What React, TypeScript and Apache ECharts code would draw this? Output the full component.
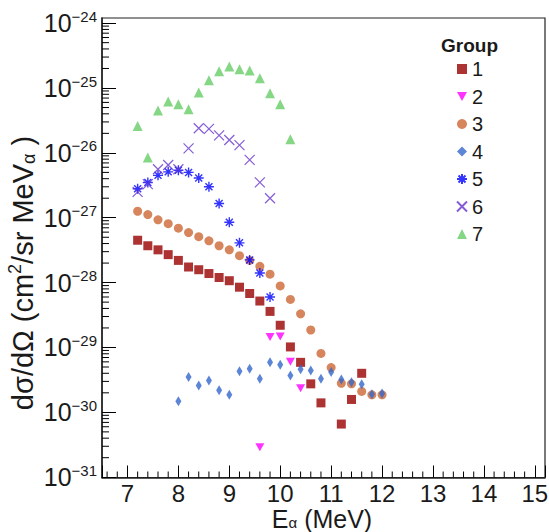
import React, { useEffect, useRef } from "react";
import * as echarts from "echarts";

// ---------- data ----------
const groupNames = ["1", "2", "3", "4", "5", "6", "7"];

const energy1 = [7.2, 7.4, 7.6, 7.8, 8.0, 8.2, 8.4, 8.6, 8.8, 9.0, 9.2, 9.4, 9.6, 9.8, 10.0, 10.2, 10.4, 10.6, 10.8, 11.2, 11.4, 11.6];
const sigma1 = [4.5e-28, 3.7e-28, 3.2e-28, 2.7e-28, 2.2e-28, 1.74e-28, 1.58e-28, 1.38e-28, 1.2e-28, 1.07e-28, 8.5e-29, 6.8e-29, 5.2e-29, 3.6e-29, 2.2e-29, 1.02e-29, 5.9e-30, 2.75e-30, 1.4e-30, 6.6e-31, 1.58e-30, 4.0e-30];

const energy2 = [9.6, 9.8, 10.0, 10.2, 10.4];
const sigma2 = [2.9e-31, 1.45e-29, 1.48e-29, 6.0e-30, 2.35e-30];

const energy3 = [7.2, 7.4, 7.6, 7.8, 8.0, 8.2, 8.4, 8.6, 8.8, 9.0, 9.2, 9.4, 9.6, 9.8, 10.0, 10.2, 10.4, 10.6, 10.8, 11.0, 11.2, 11.4, 11.6, 11.8, 12.0];
const sigma3 = [1.26e-27, 1.12e-27, 9.3e-28, 8.1e-28, 6.9e-28, 5.9e-28, 5.1e-28, 4.4e-28, 3.7e-28, 3.2e-28, 2.6e-28, 2.2e-28, 1.78e-28, 1.35e-28, 8.9e-29, 5.5e-29, 3.3e-29, 1.86e-29, 8.1e-30, 4.9e-30, 2.8e-30, 2.75e-30, 2.1e-30, 1.86e-30, 1.86e-30];

const energy4 = [8.0, 8.2, 8.4, 8.6, 8.8, 9.0, 9.2, 9.4, 9.6, 9.8, 10.0, 10.2, 10.4, 10.6, 10.8, 11.0, 11.2, 11.4, 11.6, 11.8, 12.0];
const sigma4 = [1.48e-30, 3.5e-30, 2.6e-30, 3.1e-30, 2.2e-30, 1.86e-30, 4.3e-30, 4.7e-30, 3.3e-30, 5.9e-30, 5.4e-30, 3.7e-30, 4.6e-30, 4.4e-30, 3.3e-30, 4.2e-30, 3.2e-30, 2.9e-30, 2.7e-30, 1.9e-30, 1.95e-30];

const energy5 = [7.2, 7.4, 7.6, 7.8, 8.0, 8.2, 8.4, 8.6, 8.8, 9.0, 9.2, 9.4, 9.6, 9.8];
const sigma5 = [2.8e-27, 3.5e-27, 4.5e-27, 5.1e-27, 5.4e-27, 5.0e-27, 4.1e-27, 3.0e-27, 1.66e-27, 8.5e-28, 4.1e-28, 2.24e-28, 1.41e-28, 6.0e-29];

const energy6 = [7.2, 7.4, 7.6, 7.8, 8.0, 8.2, 8.4, 8.6, 8.8, 9.0, 9.2, 9.4, 9.6, 9.8];
const sigma6 = [2.5e-27, 3.3e-27, 5.6e-27, 6.5e-27, 5.6e-27, 1.17e-26, 2.4e-26, 2.35e-26, 1.86e-26, 1.58e-26, 1.32e-26, 7.8e-27, 3.5e-27, 2.0e-27];

const energy7 = [7.2, 7.4, 7.6, 7.8, 8.0, 8.2, 8.4, 8.6, 8.8, 9.0, 9.2, 9.4, 9.6, 9.8, 10.0, 10.2];
const sigma7 = [2.6e-26, 8.5e-27, 4.5e-26, 6.2e-26, 5.6e-26, 4.7e-26, 8.5e-26, 1.32e-25, 1.82e-25, 2.14e-25, 1.95e-25, 1.86e-25, 1.41e-25, 8.3e-26, 5.6e-26, 1.62e-26];

const xMin = 6.5;
const xMax = 15.2;
const yMin = 9.9e-32;
const yMax = 1.2e-24;
const yDecades = [-31, -30, -29, -28, -27, -26, -25];
const yMinorMultipliers = [2, 3, 4, 5, 6, 7, 8, 9];
const xMinorTicks = [6.6, 6.8, 7.2, 7.4, 7.6, 7.8, 8.2, 8.4, 8.6, 8.8, 9.2, 9.4, 9.6, 9.8, 10.2, 10.4, 10.6, 10.8, 11.2, 11.4, 11.6, 11.8, 12.2, 12.4, 12.6, 12.8, 13.2, 13.4, 13.6, 13.8, 14.2, 14.4, 14.6, 14.8];

const FONT = "'Liberation Sans', Arial, Helvetica, sans-serif";
const TEXT = "#1a1a1a";

const starPath = "path://M5,0L5,10M0,5L10,5M1.5,1.5L8.5,8.5M8.5,1.5L1.5,8.5";
const crossPath = "path://M0,0L10,10M10,0L0,10";
const downTrianglePath = "path://M0,0L10,0L5,9Z";

function pairs(xs: number[], ys: number[]) {
  return xs.map((x, i) => [x, ys[i]]);
}

export default function App() {
  const ref = useRef<HTMLDivElement>(null);

  useEffect(() => {
    if (!ref.current) return;
    const chart = echarts.init(ref.current, undefined, { renderer: "svg" });

    const yMinorData: number[][] = [];
    yDecades.forEach((d) => {
      yMinorMultipliers.forEach((m) => {
        yMinorData.push([xMin, m * Math.pow(10, d)]);
      });
    });
    const xMinorData = xMinorTicks.map((x) => [x, yMin]);

    const scatterBase = { type: "scatter", z: 3 } as any;

    const option: any = {
      animation: false,
      backgroundColor: "#ffffff",
      textStyle: { fontFamily: FONT },
      title: {
        text: "Group",
        left: 441,
        top: 36,
        padding: 0,
        textStyle: { fontFamily: FONT, fontWeight: "bold", fontSize: 19, color: TEXT },
      },
      legend: {
        data: groupNames,
        orient: "vertical",
        left: 456,
        top: 59,
        padding: 0,
        itemWidth: 10,
        itemHeight: 10,
        itemGap: 7.5,
        textStyle: { fontFamily: FONT, fontSize: 20, color: TEXT, lineHeight: 20 },
        selectedMode: false,
      },
      grid: {
        left: 102,
        right: 4,
        top: 18,
        bottom: 54.5,
        show: true,
        borderColor: "#222",
        borderWidth: 1.2,
        containLabel: false,
        outerBoundsMode: "none",
      },
      xAxis: {
        type: "value",
        min: xMin,
        max: xMax,
        splitNumber: 9,
        axisLine: { show: true, lineStyle: { color: "#222", width: 1.5 } },
        axisTick: { show: true, inside: true, length: 12, lineStyle: { color: "#000", width: 1 } },
        splitLine: { show: false },
        axisLabel: {
          margin: 6,
          fontFamily: FONT,
          fontSize: 24,
          lineHeight: 20,
          color: TEXT,
          formatter: (v: number) => (Math.abs(v - Math.round(v)) < 1e-6 ? String(Math.round(v)) : ""),
        },
      },
      yAxis: {
        type: "log",
        logBase: 10,
        min: yMin,
        max: yMax,
        axisLine: { show: true, lineStyle: { color: "#222", width: 1.5 } },
        axisTick: { show: true, inside: true, length: 14, lineStyle: { color: "#000", width: 1 } },
        splitLine: { show: false },
        minorTick: { show: false },
        axisLabel: {
          margin: 5,
          fontFamily: FONT,
          color: TEXT,
          formatter: (v: number) => {
            if (!(v > 0)) return "";
            const e = Math.log10(v);
            const r = Math.round(e);
            if (Math.abs(e - r) > 0.01) return "";
            return "{b|10}{s|\u2212" + String(-r) + "}";
          },
          rich: {
            b: { fontFamily: FONT, fontSize: 25, color: TEXT },
            s: { fontFamily: FONT, fontSize: 15, color: TEXT, padding: [0, 0, 14, 0] },
          },
        },
      },
      graphic: [
        {
          type: "text",
          x: 23,
          y: 273,
          rotation: Math.PI / 2,
          style: {
            text: "{a|d\u03c3/d\u03a9 (cm}{p|2}{a|/sr MeV}{q|\u03b1}{a| )}",
            align: "center",
            verticalAlign: "middle",
            rich: {
              a: { fontFamily: FONT, fontSize: 29, fill: TEXT },
              p: { fontFamily: FONT, fontSize: 18, fill: TEXT, padding: [0, 0, 16, 0] },
              q: { fontFamily: FONT, fontSize: 18, fill: TEXT, padding: [12, 0, 0, 0] },
            },
          },
        },
        {
          type: "text",
          x: 322,
          y: 519,
          style: {
            text: "{a|E}{q|\u03b1}{a| (MeV)}",
            align: "center",
            verticalAlign: "middle",
            rich: {
              a: { fontFamily: FONT, fontSize: 25, fill: TEXT, lineHeight: 20 },
              q: { fontFamily: FONT, fontSize: 15, fill: TEXT, lineHeight: 15, padding: [6, 0, 0, 0] },
            },
          },
        },
      ],
      series: [
        {
          ...scatterBase,
          name: "1",
          data: pairs(energy1, sigma1),
          symbol: "rect",
          symbolSize: 9,
          itemStyle: { color: "#990000" },
        },
        {
          ...scatterBase,
          name: "2",
          data: pairs(energy2, sigma2),
          symbol: downTrianglePath,
          symbolSize: [9, 8],
          itemStyle: { color: "#ff00ff" },
        },
        {
          ...scatterBase,
          name: "3",
          data: pairs(energy3, sigma3),
          symbol: "circle",
          symbolSize: 9,
          itemStyle: { color: "#cc6633" },
        },
        {
          ...scatterBase,
          name: "4",
          data: pairs(energy4, sigma4),
          symbol: "diamond",
          symbolSize: [6, 10],
          itemStyle: { color: "#3366cc" },
        },
        {
          ...scatterBase,
          name: "5",
          data: pairs(energy5, sigma5),
          symbol: starPath,
          symbolSize: 10,
          itemStyle: { color: "rgba(0,0,255,0)", borderColor: "#0000ff", borderWidth: 1.4 },
        },
        {
          ...scatterBase,
          name: "6",
          data: pairs(energy6, sigma6),
          symbol: crossPath,
          symbolSize: 10,
          itemStyle: { color: "rgba(102,51,204,0)", borderColor: "#6633cc", borderWidth: 1.2 },
        },
        {
          ...scatterBase,
          name: "7",
          data: pairs(energy7, sigma7),
          symbol: "triangle",
          symbolSize: [10, 10],
          itemStyle: { color: "#66cc66" },
        },
        {
          type: "custom",
          name: "yMinor",
          silent: true,
          z: 2,
          data: yMinorData,
          renderItem: (params: any, api: any) => {
            const p = api.coord([api.value(0), api.value(1)]);
            return {
              type: "line",
              shape: { x1: p[0], y1: p[1], x2: p[0] + 7, y2: p[1] },
              style: { stroke: "#000", lineWidth: 1 },
            };
          },
        },
        {
          type: "custom",
          name: "xMinor",
          silent: true,
          z: 2,
          data: xMinorData,
          renderItem: (params: any, api: any) => {
            const p = api.coord([api.value(0), api.value(1)]);
            return {
              type: "line",
              shape: { x1: p[0], y1: p[1], x2: p[0], y2: p[1] - 6 },
              style: { stroke: "#000", lineWidth: 1 },
            };
          },
        },
      ],
    };

    chart.setOption(option);
    return () => chart.dispose();
  }, []);

  return (
    <div
      ref={ref}
      style={{ position: "absolute", left: 0, top: 0, width: 549, height: 532, background: "#fff" }}
    />
  );
}
